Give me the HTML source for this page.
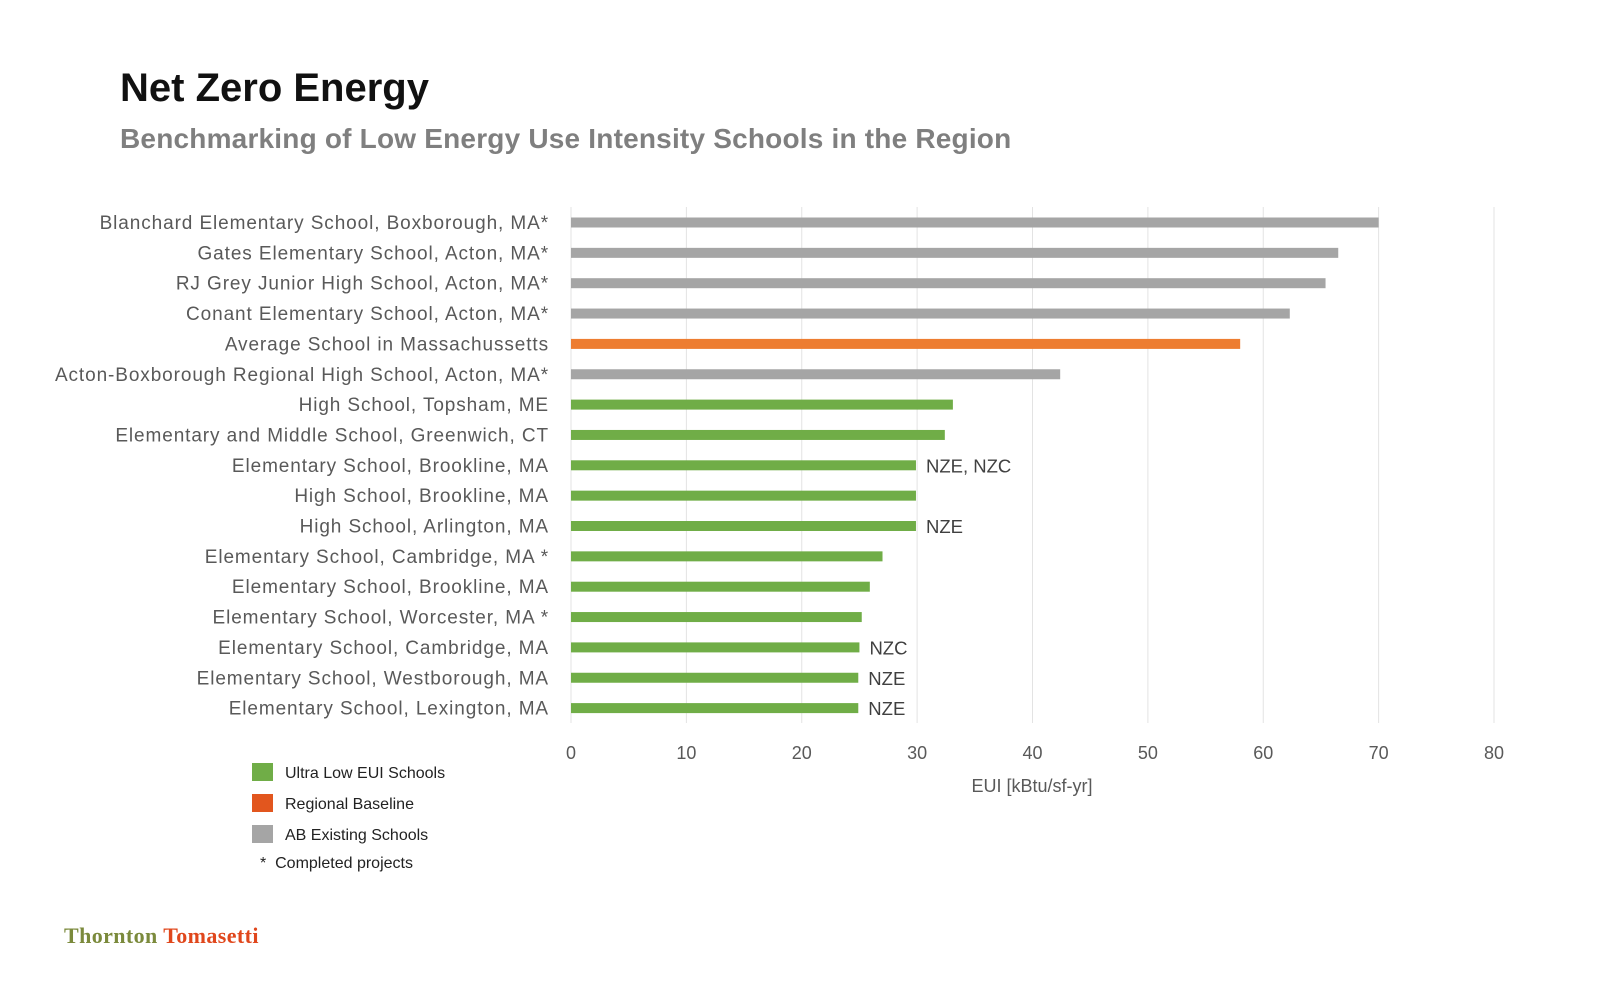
<!DOCTYPE html>
<html><head><meta charset="utf-8">
<style>
html,body{margin:0;padding:0;background:#fff;}
body{width:1600px;height:988px;position:relative;overflow:hidden;font-family:"Liberation Sans",sans-serif;}
.t{position:absolute;white-space:nowrap;}
</style></head>
<body>
<div class="t" style="left:120px;top:66px;font-size:40px;font-weight:bold;color:#111;">Net Zero Energy</div>
<div class="t" style="left:120px;top:123px;font-size:28px;letter-spacing:0.2px;font-weight:bold;color:#7f7f7f;">Benchmarking of Low Energy Use Intensity Schools in the Region</div>
<svg id="chart" width="1600" height="988" style="position:absolute;left:0;top:0;"></svg>
<div>
<div style="position:absolute;left:252px;top:763px;width:21px;height:18px;background:#70ad47"></div>
<div class="t" style="left:285px;top:765px;font-size:16px;color:#222">Ultra Low EUI Schools</div>
<div style="position:absolute;left:252px;top:794px;width:21px;height:18px;background:#e2561e"></div>
<div class="t" style="left:285px;top:796px;font-size:16px;color:#222">Regional Baseline</div>
<div style="position:absolute;left:252px;top:825px;width:21px;height:18px;background:#a5a5a5"></div>
<div class="t" style="left:285px;top:827px;font-size:16px;color:#222">AB Existing Schools</div>
<div class="t" style="left:260px;top:855px;font-size:16px;color:#222">*&nbsp;&nbsp;Completed projects</div>
</div>
<div class="t" style="left:64px;top:923px;font-family:'Liberation Serif',serif;font-weight:bold;font-size:22px;letter-spacing:0.4px;"><span style="color:#7b8a3c">Thornton</span> <span style="color:#e0471c">Tomasetti</span></div>
<script>
const categories=["Blanchard Elementary School, Boxborough, MA*","Gates Elementary School, Acton, MA*","RJ Grey Junior High School, Acton, MA*","Conant Elementary School, Acton, MA*","Average School in Massachussetts","Acton-Boxborough Regional  High School, Acton, MA*","High School, Topsham, ME","Elementary and Middle School, Greenwich, CT","Elementary School, Brookline, MA","High School, Brookline, MA","High School, Arlington, MA","Elementary School, Cambridge, MA *","Elementary School, Brookline, MA","Elementary School, Worcester, MA *","Elementary School, Cambridge, MA","Elementary School, Westborough, MA","Elementary School, Lexington, MA"];
const values=[70,66.5,65.4,62.3,58,42.4,33.1,32.4,29.9,29.9,29.9,27,25.9,25.2,25,24.9,24.9];
const groups=["gray","gray","gray","gray","orange","gray","green","green","green","green","green","green","green","green","green","green","green"];
const annotations=["","","","","","","","","NZE, NZC","","NZE","","","","NZC","NZE","NZE"];
const ticks=[0,10,20,30,40,50,60,70,80];
const colors={gray:"#a5a5a5",orange:"#ed7d31",green:"#70ad47"};
const svg=document.getElementById('chart');const NS="http://www.w3.org/2000/svg";
const x=v=>571+v*(1494-571)/80;
const y=i=>222.5+i*30.35;
function mk(t,a,txt){const e=document.createElementNS(NS,t);for(const k in a)e.setAttribute(k,a[k]);if(txt!==undefined)e.textContent=txt;svg.appendChild(e);return e;}
ticks.forEach(t=>{
 const g=mk('line',{x1:x(t),x2:x(t),y1:207,y2:723,stroke:'#e3e3e3','stroke-width':1});
 
 
 const l=mk('text',{x:x(t),y:759,'text-anchor':'middle','font-size':18,fill:'#595959','font-family':'Liberation Sans, sans-serif'},t);
 
 
});
const at=mk('text',{x:1032,y:792,'text-anchor':'middle','font-size':18,fill:'#595959','font-family':'Liberation Sans, sans-serif'},'EUI [kBtu/sf-yr]');


categories.forEach((c,i)=>{
 const l=mk('text',{x:549,y:y(i)+6.5,'text-anchor':'end','font-size':19,'letter-spacing':0.9,fill:'#595959','font-family':'Liberation Sans, sans-serif'},c);
 
 
 const b=mk('rect',{x:x(0),y:y(i)-5,width:x(values[i])-x(0),height:10,fill:colors[groups[i]]});
 
 
 if(annotations[i]){
  const a=mk('text',{x:x(values[i])+10,y:y(i)+7,'font-size':18.5,fill:'#404040','font-family':'Liberation Sans, sans-serif'},annotations[i]);
  
  
 }
});
</script>
</body></html>
